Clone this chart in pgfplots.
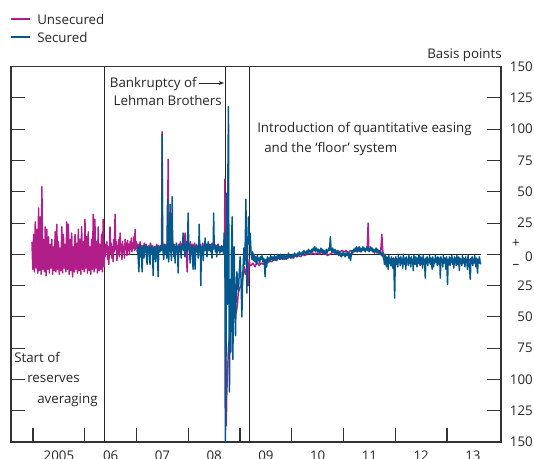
\documentclass[border=0pt]{standalone}
\usepackage{fontspec}
\setmainfont{Open Sans}
\usepackage{pgfplots}
\pgfplotsset{compat=1.18}
\usetikzlibrary{arrows.meta}

\definecolor{unsec}{RGB}{178,30,137}
\definecolor{sec}{RGB}{0,88,140}
\newcommand\fs{\fontsize{10}{12}\selectfont}
% image pixel -> canvas point (origin bottom left)
\newcommand\pp[2]{({#1*0.75pt},{(459-#2)*0.75pt})}

\begin{document}
\fs
\begin{tikzpicture}
\useasboundingbox (0,0) rectangle (400.5pt,344.25pt);
\begin{axis}[
    at={(8.25pt,12.75pt)}, anchor=south west,
    scale only axis, width=367.5pt, height=281.5pt,
    xmin=2004.575, xmax=2014.043,
    ymin=-150, ymax=150,
    axis line style={line width=0.8pt, black!80},
    every tick/.style={line width=0.8pt, black!80},
    tick align=inside, major tick length=10.5pt,
    xtick pos=bottom, ytick pos=both, yticklabel pos=right,
    xtick={2005,...,2013}, xticklabels={},
    extra x ticks={2005.5,2006.5,2007.5,2008.5,2009.5,2010.5,2011.5,2012.5,2013.5},
    extra x tick labels={2005,06,07,08,09,10,11,12,13},
    extra x tick style={major tick length=0pt},
    xticklabel style={anchor=north, inner sep=0pt, yshift=-6.5pt},
    ytick={-150,-125,...,150},
    yticklabels={150,125,100,75,50,25,{},25,50,75,100,125,150},
    yticklabel style={anchor=east, inner sep=0pt, xshift=24pt},
    tick label style={font=\fs, text=black!85},
    /pgf/number format/assume math mode=true,
    clip=true,
  ]
\draw[black!85, line width=0.7pt] (axis cs:2006.378,-150) -- (axis cs:2006.378,150);
\draw[black!85, line width=0.7pt] (axis cs:2008.710,-150) -- (axis cs:2008.710,150);
\draw[black!85, line width=0.7pt] (axis cs:2009.174,-150) -- (axis cs:2009.174,150);
\draw[black!85, line width=0.7pt] (axis cs:2004.98,0) -- (axis cs:2013.65,0);

% Unsecured
\addplot[unsec, line width=1.1pt, line join=round, no markers] coordinates {
(2004.980,10) (2004.996,-12) (2005.012,16) (2005.028,-14) (2005.044,26) (2005.060,-11)
(2005.076,20) (2005.092,-15) (2005.108,37) (2005.124,-13) (2005.140,30) (2005.156,-16)
(2005.172,54) (2005.188,-12) (2005.204,12) (2005.220,-14) (2005.236,22) (2005.252,-17)
(2005.268,20) (2005.284,-12) (2005.300,14) (2005.316,-15) (2005.332,8) (2005.348,-11)
(2005.364,12) (2005.380,-16) (2005.396,6) (2005.412,-13) (2005.428,18) (2005.444,-14)
(2005.460,24) (2005.476,-12) (2005.492,10) (2005.508,-16) (2005.524,5) (2005.540,-13)
(2005.556,22) (2005.572,-15) (2005.588,16) (2005.604,-11) (2005.620,8) (2005.636,-14)
(2005.652,26) (2005.668,-12) (2005.684,24) (2005.700,-16) (2005.716,12) (2005.732,-13)
(2005.748,17) (2005.764,-18) (2005.780,6) (2005.796,-14) (2005.812,16) (2005.828,-12)
(2005.844,9) (2005.860,-15) (2005.876,20) (2005.892,-13) (2005.908,12) (2005.924,-16)
(2005.940,22) (2005.956,-12) (2005.972,10) (2005.988,-14) (2006.004,28) (2006.020,-11)
(2006.036,14) (2006.052,-15) (2006.068,18) (2006.084,-13) (2006.100,6) (2006.116,-16)
(2006.132,12) (2006.148,-12) (2006.164,32) (2006.180,-14) (2006.196,28) (2006.212,-11)
(2006.228,10) (2006.244,-15) (2006.260,22) (2006.276,-13) (2006.292,8) (2006.308,-12)
(2006.324,16) (2006.340,-14) (2006.356,28) (2006.372,-10)
(2006.380,5) (2006.392,-2) (2006.404,8) (2006.416,2) (2006.428,10) (2006.440,-4)
(2006.452,6) (2006.464,-8) (2006.476,4) (2006.488,22) (2006.500,0) (2006.512,9)
(2006.524,-3) (2006.536,6) (2006.548,-6) (2006.560,12) (2006.572,2) (2006.586,32)
(2006.598,4) (2006.610,10) (2006.622,-5) (2006.634,7) (2006.646,0) (2006.658,12)
(2006.670,-2) (2006.683,17) (2006.695,3) (2006.707,8) (2006.719,-4) (2006.731,10)
(2006.743,2) (2006.755,6) (2006.767,-3) (2006.780,12) (2006.792,4) (2006.804,9)
(2006.816,-1) (2006.828,11) (2006.840,3) (2006.852,8) (2006.864,0) (2006.876,10)
(2006.888,4) (2006.900,13) (2006.912,2) (2006.924,9) (2006.936,5) (2006.948,14)
(2006.960,3) (2006.973,20) (2006.985,4) (2006.997,10)
(2007.010,5) (2007.030,8) (2007.050,3) (2007.070,10) (2007.090,4) (2007.110,7)
(2007.130,2) (2007.150,9) (2007.170,5) (2007.190,8) (2007.210,3) (2007.230,6)
(2007.250,4) (2007.270,9) (2007.290,5) (2007.310,7) (2007.330,3) (2007.350,6)
(2007.370,4) (2007.390,8) (2007.410,5) (2007.430,7) (2007.450,4) (2007.470,6)
(2007.485,8) (2007.495,98) (2007.505,10) (2007.525,5) (2007.545,8) (2007.575,4)
(2007.600,10) (2007.611,76) (2007.622,8) (2007.640,12) (2007.660,6) (2007.690,14)
(2007.710,4) (2007.730,8) (2007.750,-2) (2007.770,6) (2007.790,3) (2007.810,8)
(2007.830,5) (2007.850,10) (2007.870,4) (2007.890,9) (2007.910,6) (2007.940,17)
(2007.960,2) (2007.979,-14) (2007.995,8) (2008.020,5) (2008.040,10) (2008.060,3)
(2008.080,8) (2008.100,4) (2008.120,9) (2008.140,2) (2008.160,7) (2008.180,4)
(2008.200,8) (2008.220,3) (2008.240,6) (2008.260,4) (2008.280,9) (2008.300,5)
(2008.320,7) (2008.340,3) (2008.360,6) (2008.380,8) (2008.400,4) (2008.420,7)
(2008.440,5) (2008.460,9) (2008.480,6) (2008.500,8) (2008.520,4) (2008.540,7)
(2008.560,5) (2008.580,8) (2008.600,4) (2008.620,6) (2008.640,3) (2008.660,5)
(2008.680,2) (2008.695,8)
(2008.700,4) (2008.708,60) (2008.716,10) (2008.724,-80) (2008.735,-137) (2008.745,-110)
(2008.760,-95) (2008.775,-75) (2008.790,-70) (2008.805,-62) (2008.820,-60) (2008.835,-57)
(2008.850,-55) (2008.870,-52) (2008.890,-50) (2008.910,-48) (2008.930,-46) (2008.950,-40)
(2008.965,-31) (2008.985,-28) (2009.005,-26) (2009.025,-25) (2009.045,-22) (2009.065,-15)
(2009.085,-10) (2009.105,-16) (2009.125,-12) (2009.145,-18) (2009.160,-25) (2009.175,-4)
(2009.190,-8)
(2009.210,-9) (2009.250,-7) (2009.290,-10) (2009.330,-6) (2009.370,-9) (2009.410,-7)
(2009.450,-8) (2009.490,-5) (2009.530,-7) (2009.570,-5) (2009.610,-6) (2009.650,-4)
(2009.690,-5) (2009.730,-3) (2009.770,-4) (2009.810,-3) (2009.850,-4) (2009.890,-2)
(2009.930,-3) (2009.970,-2) (2010.010,-3) (2010.050,-1) (2010.090,-2) (2010.130,-1)
(2010.170,-2) (2010.210,0) (2010.250,-1) (2010.290,0) (2010.330,1) (2010.370,0)
(2010.410,1) (2010.450,0) (2010.490,1) (2010.530,0) (2010.570,2) (2010.610,0)
(2010.650,1) (2010.690,-1) (2010.730,0) (2010.770,1) (2010.810,2) (2010.850,1)
(2010.890,3) (2010.930,2) (2010.970,3) (2011.010,2) (2011.050,3) (2011.090,1)
(2011.130,3) (2011.170,2) (2011.210,4) (2011.250,2) (2011.290,3) (2011.330,2)
(2011.370,4) (2011.410,3) (2011.460,5) (2011.475,25) (2011.490,3) (2011.530,4)
(2011.570,2) (2011.610,3) (2011.650,1) (2011.690,2) (2011.720,3) (2011.740,16)
(2011.760,2)
(2011.790,-2) (2011.820,-4) (2011.850,-3) (2011.880,-6) (2011.910,-4) (2011.940,-5)
(2011.970,-3) (2012.000,-6) (2012.030,-4) (2012.060,-7) (2012.090,-5) (2012.120,-4)
(2012.150,-6) (2012.180,-5) (2012.210,-8) (2012.240,-5) (2012.270,-6) (2012.300,-4)
(2012.330,-7) (2012.360,-5) (2012.390,-6) (2012.420,-4) (2012.450,-7) (2012.480,-5)
(2012.510,-8) (2012.540,-6) (2012.570,-5) (2012.600,-7) (2012.630,-4) (2012.660,-6)
(2012.690,-5) (2012.720,-8) (2012.750,-6) (2012.780,-5) (2012.810,-7) (2012.840,-4)
(2012.870,-6) (2012.900,-5) (2012.930,-7) (2012.960,-5) (2012.990,-6) (2013.020,-4)
(2013.050,-7) (2013.080,-5) (2013.110,-6) (2013.140,-8) (2013.170,-5) (2013.200,-6)
(2013.230,-4) (2013.260,-7) (2013.290,-5) (2013.320,-6) (2013.350,-8) (2013.380,-5)
(2013.410,-6) (2013.440,-4) (2013.470,-7) (2013.500,-5) (2013.530,-6) (2013.560,-8)
(2013.590,-5) (2013.620,-7) (2013.650,-6)
};

% Secured
\addplot[sec, line width=1.1pt, line join=round, no markers] coordinates {
(2007.010,2) (2007.022,6) (2007.034,-4) (2007.046,-14) (2007.058,4) (2007.070,8)
(2007.082,-2) (2007.094,5) (2007.108,-14) (2007.120,3) (2007.132,7) (2007.144,-3)
(2007.156,5) (2007.168,2) (2007.180,8) (2007.192,-2) (2007.205,-8) (2007.217,6)
(2007.229,3) (2007.241,7) (2007.253,-4) (2007.263,-8) (2007.275,4) (2007.287,6)
(2007.299,1) (2007.311,5) (2007.321,-17) (2007.333,3) (2007.345,6) (2007.357,2)
(2007.369,-6) (2007.381,5) (2007.393,7) (2007.405,3) (2007.418,-18) (2007.430,4)
(2007.442,6) (2007.454,2) (2007.466,7) (2007.478,3) (2007.490,8) (2007.495,96)
(2007.502,6) (2007.514,2) (2007.526,-4) (2007.538,5) (2007.550,8) (2007.562,1)
(2007.574,6) (2007.586,-3) (2007.600,44) (2007.610,5) (2007.622,-6) (2007.636,12)
(2007.650,40) (2007.662,4) (2007.676,-5) (2007.689,46) (2007.700,3) (2007.712,8)
(2007.724,-2) (2007.736,6) (2007.746,-7) (2007.758,5) (2007.770,9) (2007.782,2)
(2007.794,6) (2007.804,-15) (2007.816,4) (2007.828,8) (2007.840,2) (2007.852,6)
(2007.864,-3) (2007.876,7) (2007.888,4) (2007.901,17) (2007.913,3) (2007.925,8)
(2007.937,-2) (2007.949,5) (2007.961,10) (2007.973,2) (2007.985,6) (2007.998,33)
(2008.010,4) (2008.022,8) (2008.036,-7) (2008.048,5) (2008.060,2) (2008.072,7)
(2008.084,-4) (2008.094,-12) (2008.106,6) (2008.118,3) (2008.133,-12) (2008.145,5)
(2008.157,8) (2008.169,2) (2008.181,6) (2008.193,-3) (2008.205,7) (2008.210,24)
(2008.222,4) (2008.234,8) (2008.242,-25) (2008.254,5) (2008.266,2) (2008.278,7)
(2008.290,-5) (2008.302,6) (2008.314,3) (2008.326,13) (2008.338,4) (2008.350,8)
(2008.362,-2) (2008.374,6) (2008.386,10) (2008.398,3) (2008.410,7) (2008.423,8)
(2008.435,2) (2008.447,6) (2008.459,-3) (2008.471,7) (2008.483,4) (2008.490,33)
(2008.502,5) (2008.514,8) (2008.526,2) (2008.538,6) (2008.550,-2) (2008.562,5)
(2008.574,8) (2008.586,3) (2008.598,6) (2008.610,1) (2008.622,5) (2008.634,2)
(2008.646,7) (2008.658,3) (2008.670,6) (2008.682,0) (2008.694,17) (2008.704,4)
(2008.710,-20) (2008.716,-160) (2008.728,-100) (2008.738,20) (2008.746,49) (2008.755,-40)
(2008.765,60) (2008.777,118) (2008.786,-30) (2008.796,-110) (2008.806,-60) (2008.816,-20)
(2008.824,-78) (2008.836,10) (2008.849,30) (2008.856,-20) (2008.862,-84) (2008.874,-30)
(2008.887,6) (2008.900,-40) (2008.913,-65) (2008.926,-30) (2008.940,-14) (2008.955,-25)
(2008.970,-30) (2008.985,-15) (2009.003,-2) (2009.020,-20) (2009.036,-50) (2009.048,-25)
(2009.060,-10) (2009.075,5) (2009.090,-8) (2009.104,15) (2009.114,44) (2009.124,0)
(2009.133,-31) (2009.148,5) (2009.164,30) (2009.180,8) (2009.197,17) (2009.212,2)
(2009.230,-4)
(2009.245,2) (2009.260,-5) (2009.275,0) (2009.290,-6) (2009.305,-2) (2009.320,-8)
(2009.335,-1) (2009.350,-5) (2009.365,-3) (2009.380,-7) (2009.395,-2) (2009.410,-4)
(2009.425,-1) (2009.440,-6) (2009.455,-3) (2009.470,-5) (2009.485,-18) (2009.500,-4)
(2009.515,-10) (2009.530,-2) (2009.545,-5) (2009.560,-3) (2009.575,-6) (2009.590,-1)
(2009.605,-4) (2009.620,-2) (2009.635,-5) (2009.650,-3) (2009.665,-1) (2009.680,-4)
(2009.695,-2) (2009.710,-5) (2009.725,0) (2009.740,-3) (2009.755,-1) (2009.770,-4)
(2009.785,0) (2009.800,-2) (2009.815,-4) (2009.830,-1) (2009.845,-3) (2009.860,0)
(2009.875,-2) (2009.890,-4) (2009.905,-1) (2009.920,-3) (2009.935,1) (2009.950,-2)
(2009.965,0) (2009.980,-3) (2009.995,-1) (2010.010,-2) (2010.025,0) (2010.040,-3)
(2010.055,1) (2010.070,-1) (2010.085,0) (2010.100,-2) (2010.115,1) (2010.130,-1)
(2010.145,2) (2010.160,0) (2010.175,1) (2010.190,-1) (2010.205,2) (2010.220,0)
(2010.235,3) (2010.250,1) (2010.265,2) (2010.280,0) (2010.295,3) (2010.310,1)
(2010.325,4) (2010.340,2) (2010.355,3) (2010.370,1) (2010.385,4) (2010.400,2)
(2010.415,5) (2010.430,3) (2010.445,6) (2010.460,2) (2010.475,5) (2010.490,4)
(2010.505,2) (2010.520,4) (2010.535,1) (2010.550,3) (2010.565,5) (2010.580,2)
(2010.595,4) (2010.610,1) (2010.625,3) (2010.640,0) (2010.655,2) (2010.670,4)
(2010.685,1) (2010.700,3) (2010.715,5) (2010.730,3) (2010.745,14) (2010.760,4)
(2010.775,2) (2010.790,5) (2010.805,3) (2010.820,1) (2010.835,4) (2010.850,2)
(2010.865,0) (2010.880,3) (2010.895,1) (2010.910,-1) (2010.925,2) (2010.940,0)
(2010.955,-2) (2010.970,1) (2010.985,-1) (2011.000,2) (2011.015,0) (2011.030,-2)
(2011.045,1) (2011.060,-1) (2011.075,2) (2011.090,0) (2011.105,-3) (2011.120,1)
(2011.135,-5) (2011.150,0) (2011.165,3) (2011.180,1) (2011.195,4) (2011.210,2)
(2011.225,5) (2011.240,3) (2011.255,6) (2011.270,2) (2011.285,4) (2011.300,6)
(2011.315,3) (2011.330,5) (2011.345,2) (2011.360,4) (2011.375,6) (2011.390,3)
(2011.405,5) (2011.420,2) (2011.435,4) (2011.450,6) (2011.465,3) (2011.480,5)
(2011.495,2) (2011.510,4) (2011.525,6) (2011.540,3) (2011.555,5) (2011.570,2)
(2011.585,4) (2011.600,1) (2011.615,3) (2011.630,5) (2011.645,2) (2011.660,4)
(2011.675,1) (2011.690,3) (2011.705,0) (2011.720,2) (2011.735,-1) (2011.750,1)
(2011.765,-2)
(2011.780,-4) (2011.792,-8) (2011.804,0) (2011.816,-6) (2011.828,-10) (2011.840,-2)
(2011.852,-5) (2011.864,-12) (2011.876,-1) (2011.888,-7) (2011.900,-4) (2011.912,-9)
(2011.924,-2) (2011.936,-6) (2011.948,-11) (2011.960,-3) (2011.972,-7) (2011.988,-35)
(2012.000,-5) (2012.012,-2) (2012.024,-8) (2012.036,-4) (2012.048,-10) (2012.060,-1)
(2012.072,-6) (2012.084,-3) (2012.096,-9) (2012.108,-2) (2012.120,-7) (2012.132,-4)
(2012.144,-11) (2012.156,0) (2012.168,-5) (2012.180,-8) (2012.192,-3) (2012.204,-12)
(2012.216,-2) (2012.228,-6) (2012.240,-4) (2012.252,-9) (2012.264,-1) (2012.276,-7)
(2012.288,-3) (2012.300,-10) (2012.312,-2) (2012.324,-6) (2012.336,-4) (2012.348,-13)
(2012.360,-1) (2012.372,-5) (2012.384,-8) (2012.396,-2) (2012.408,-6) (2012.420,-10)
(2012.432,-3) (2012.444,-7) (2012.456,0) (2012.468,-5) (2012.480,-9) (2012.492,-2)
(2012.504,-6) (2012.516,-3) (2012.528,-11) (2012.540,-1) (2012.552,-6) (2012.564,-4)
(2012.580,-19) (2012.592,-3) (2012.604,-7) (2012.616,-2) (2012.628,-9) (2012.640,-4)
(2012.652,-6) (2012.664,-1) (2012.676,-8) (2012.688,-3) (2012.700,-5) (2012.712,-12)
(2012.724,-2) (2012.740,-10) (2012.752,-4) (2012.764,-7) (2012.776,-1) (2012.788,-6)
(2012.800,-3) (2012.812,-9) (2012.824,-2) (2012.836,-5) (2012.848,-8) (2012.860,-3)
(2012.870,-19) (2012.882,-2) (2012.894,-6) (2012.906,-4) (2012.918,-10) (2012.930,-1)
(2012.942,-7) (2012.954,-3) (2012.966,-5) (2012.978,-12) (2012.990,-2) (2013.010,-24)
(2013.022,-4) (2013.034,-7) (2013.046,-2) (2013.058,-9) (2013.070,-3) (2013.082,-6)
(2013.094,-1) (2013.106,-8) (2013.118,-4) (2013.130,-11) (2013.142,-2) (2013.154,-6)
(2013.166,-3) (2013.178,-9) (2013.190,-1) (2013.202,-5) (2013.214,-8) (2013.226,-2)
(2013.238,-13) (2013.250,-3) (2013.262,-6) (2013.274,-4) (2013.286,-9) (2013.298,-1)
(2013.310,-7) (2013.322,-3) (2013.334,-5) (2013.346,-10) (2013.358,-2) (2013.370,-6)
(2013.382,-4) (2013.394,-12) (2013.406,-1) (2013.418,-5) (2013.430,-8) (2013.450,-20)
(2013.462,-3) (2013.474,-6) (2013.486,-2) (2013.498,-9) (2013.510,-4) (2013.522,-7)
(2013.534,-1) (2013.546,-5) (2013.558,-10) (2013.570,-3) (2013.590,-15) (2013.602,-4)
(2013.614,-7) (2013.626,-2) (2013.638,-6) (2013.650,-8)
};
\end{axis}

% legend
\draw[unsec, line width=1.4pt] \pp{11}{19} -- \pp{30}{19};
\node[anchor=base west, inner sep=0pt, text=black!85] at \pp{37}{25} {Unsecured};
\draw[sec, line width=1.4pt] \pp{11}{37} -- \pp{30}{37};
\node[anchor=base west, inner sep=0pt, text=black!85] at \pp{37}{43} {Secured};

% units and sign labels
\node[anchor=base east, inner sep=0pt, text=black!85] at \pp{502}{58.5} {Basis points};
\node[inner sep=0pt, text=black!85] at \pp{516}{244} {+};
\node[inner sep=0pt, text=black!85] at \pp{516}{266} {–};
\node[anchor=east, inner sep=0pt, text=black!85] at \pp{533}{257} {0};

% annotations
\node[anchor=base east, inner sep=0pt, text=black!85] at \pp{197}{88} {Bankruptcy of};
\node[anchor=base east, inner sep=0pt, text=black!85] at \pp{222}{106} {Lehman Brothers};
\draw[-{Stealth[length=4pt,width=3pt]}, black!85, line width=0.6pt] \pp{199}{83} -- \pp{224}{83};
\node[anchor=base west, inner sep=0pt, text=black!85] at \pp{257}{132.5} {Introduction of quantitative easing};
\node[anchor=base west, inner sep=0pt, text=black!85] at \pp{264}{152.5} {and the ‘floor’ system};
\node[anchor=base west, inner sep=0pt, text=black!85] at \pp{14}{363} {Start of};
\node[anchor=base west, inner sep=0pt, text=black!85] at \pp{27}{383} {reserves};
\node[anchor=base west, inner sep=0pt, text=black!85] at \pp{37}{403.5} {averaging};
\end{tikzpicture}
\end{document}
